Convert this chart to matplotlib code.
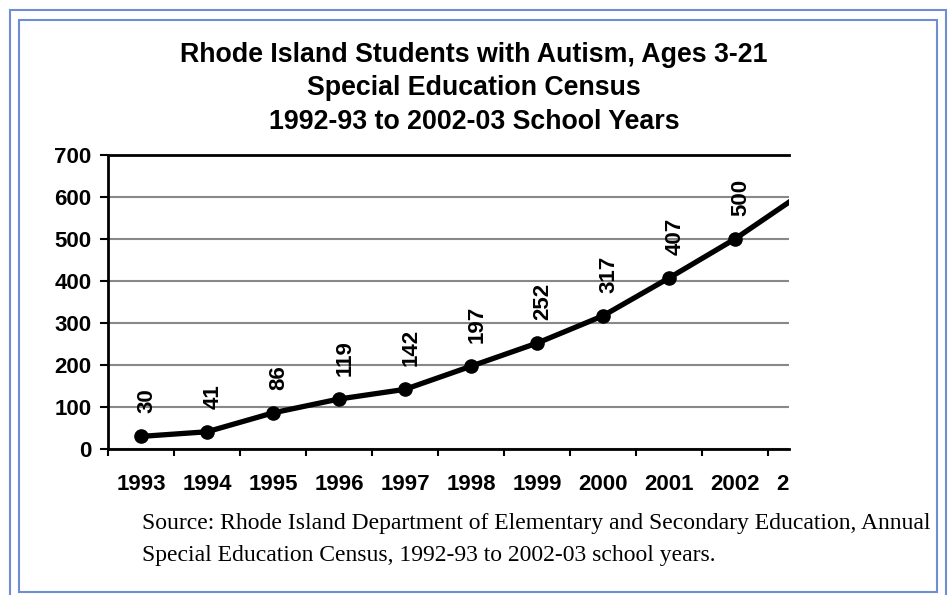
import matplotlib
matplotlib.use("Agg")
import matplotlib.pyplot as plt
from matplotlib.patches import Rectangle
from matplotlib.transforms import blended_transform_factory

years = ["1993", "1994", "1995", "1996", "1997", "1998", "1999", "2000", "2001", "2002", "2003"]
students = [30, 41, 86, 119, 142, 197, 252, 317, 407, 500, 607]
y_ticks = [0, 100, 200, 300, 400, 500, 600, 700]

title_lines = [
    "Rhode Island Students with Autism, Ages 3-21",
    "Special Education Census",
    "1992-93 to 2002-03 School Years",
]
source_lines = [
    "Source: Rhode Island Department of Elementary and Secondary Education, Annual",
    "Special Education Census, 1992-93 to 2002-03 school years.",
]

W, H = 948, 595
fig = plt.figure(figsize=(W / 100, H / 100), dpi=100)

def fx(px):
    return px / W

def fy(py):
    return 1 - py / H

# plot area in pixel coords of the reference
left, right, top, bottom = 108, 789, 155, 449
ax = fig.add_axes([fx(left), fy(bottom), fx(right) - fx(left), fy(top) - fy(bottom)])

x = list(range(len(years)))
ax.plot(x, students, color="black", lw=3.8, marker="o", ms=9.5, solid_joinstyle="round", zorder=3)

# value labels, rotated like the original
for xi, v in zip(x, students):
    ax.annotate(str(v), (xi, v), xytext=(4.5, 16.5), textcoords="offset points",
                rotation=90, ha="center", va="bottom", fontsize=16,
                fontweight="bold", family="Liberation Sans")

ax.set_xlim(-0.5, 9.82)
ax.set_ylim(0, 700)
ax.set_yticks(y_ticks)
ax.set_yticklabels([str(t) for t in y_ticks], fontsize=16, fontweight="bold",
                   family="Liberation Sans")
ax.tick_params(axis="y", length=6, width=1.5, pad=6, direction="out")

# category ticks sit between years
ax.set_xticks([i - 0.5 for i in range(len(years)) if i - 0.5 <= 9.82])
ax.set_xticklabels([])
ax.tick_params(axis="x", length=5, width=1.5, direction="out")

ax.yaxis.grid(True, color="#888888", lw=1.5)
ax.set_axisbelow(True)
ax.spines["right"].set_visible(False)
for s in ["left", "bottom", "top"]:
    ax.spines[s].set_linewidth(2)
    ax.spines[s].set_color("black")

# year labels, clipped at the right edge of the plot area
clip = Rectangle((0, 0), fx(right), 1, transform=fig.transFigure)
xlab_tr = blended_transform_factory(ax.transData, fig.transFigure)
for xi, lab in zip(x, years):
    t = ax.text(xi, fy(484), lab, transform=xlab_tr, ha="center", va="center",
                fontsize=16, fontweight="bold", family="Liberation Sans", clip_on=True)
    t.set_clip_path(clip)

# titles
for yy, line in zip([55, 88, 122], title_lines):
    fig.text(fx(474), fy(yy), line, ha="center", va="center", fontsize=19.3,
             fontweight="bold", family="Liberation Sans")

for yy, line in zip([529, 561], source_lines):
    fig.text(fx(142), fy(yy), line, ha="left", va="baseline", fontsize=17,
             family="Liberation Serif")

# double blue frame
border = "#6f8dd2"
fig.add_artist(Rectangle((fx(10), fy(600)), fx(946) - fx(10), fy(10) - fy(600),
                         transform=fig.transFigure, fill=False, ec=border, lw=1.5))
fig.add_artist(Rectangle((fx(19), fy(592)), fx(937) - fx(19), fy(20) - fy(592),
                         transform=fig.transFigure, fill=False, ec=border, lw=1.5))

fig.savefig("out.png", dpi=100)
